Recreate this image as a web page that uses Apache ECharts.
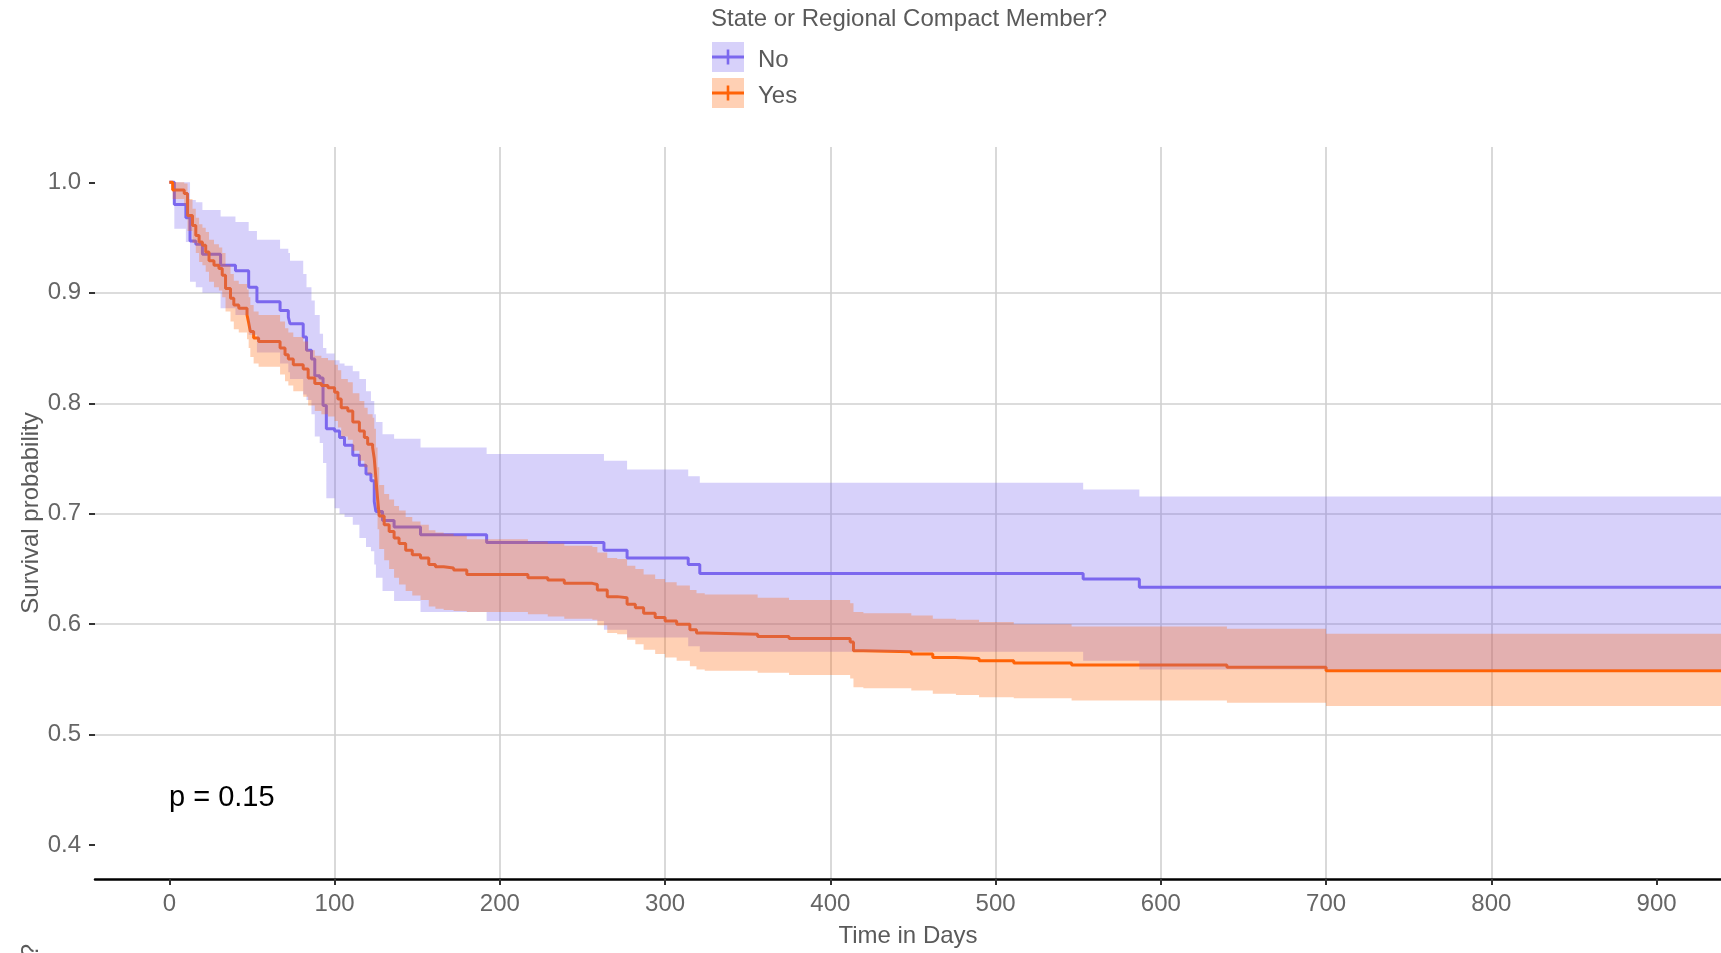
<!DOCTYPE html>
<html>
<head>
<meta charset="utf-8">
<title>Survival by compact membership</title>
<script src="https://cdn.jsdelivr.net/npm/echarts@6.0.0/dist/echarts.min.js"></script>
<style>
  html, body { margin: 0; padding: 0; background: #fff; overflow: hidden; }
  #myChart { width: 1721px; height: 953px; }
</style>
</head>
<body>
<div id="myChart"></div>
<script>
  // 刻度
  const xTicks = [0, 100, 200, 300, 400, 500, 600, 700, 800, 900];
  const yTicks = [0.4, 0.5, 0.6, 0.7, 0.8, 0.9, 1.0];

  // 组 "No"
  const noTime = [0, 3, 10, 12.5, 16, 20, 31, 40, 48, 53, 67, 72, 73, 81, 83, 86, 88, 91, 93, 95, 100, 103, 106, 111, 115, 119, 122, 124, 125, 129, 136, 152, 192, 263, 277, 314, 321, 553, 587, 950];
  const noSurv = [1.0, 0.980, 0.968, 0.947, 0.944, 0.935, 0.925, 0.920, 0.905, 0.892, 0.884, 0.878, 0.872, 0.860, 0.848, 0.840, 0.825, 0.823, 0.798, 0.777, 0.775, 0.769, 0.762, 0.753, 0.744, 0.736, 0.730, 0.711, 0.702, 0.694, 0.688, 0.681, 0.674, 0.667, 0.660, 0.654, 0.646, 0.641, 0.6335, 0.6335];
  const noLower = [1.0, 0.958, 0.946, 0.910, 0.905, 0.900, 0.886, 0.880, 0.862, 0.846, 0.836, 0.828, 0.822, 0.808, 0.803, 0.790, 0.770, 0.764, 0.746, 0.714, 0.705, 0.700, 0.697, 0.690, 0.678, 0.670, 0.666, 0.654, 0.642, 0.630, 0.621, 0.611, 0.603, 0.595, 0.588, 0.580, 0.575, 0.567, 0.559, 0.559];
  const noUpper = [1.0, 1.0, 1.0, 0.984, 0.982, 0.975, 0.969, 0.964, 0.956, 0.948, 0.940, 0.936, 0.929, 0.917, 0.905, 0.893, 0.880, 0.863, 0.850, 0.845, 0.839, 0.836, 0.834, 0.829, 0.822, 0.811, 0.802, 0.790, 0.783, 0.772, 0.768, 0.760, 0.754, 0.748, 0.740, 0.734, 0.728, 0.722, 0.7156, 0.7156];

  // 组 "Yes"
  const yesTime = [0, 2, 9, 11, 14, 16, 18, 20, 22, 24, 27, 30, 32, 34, 37, 39, 42, 47, 48, 49, 51, 54, 67, 70, 72, 75, 81, 84, 88, 92, 96, 100, 102, 104, 108, 111, 115, 118, 120, 123, 124, 125, 126, 127, 130, 133, 136, 139, 143, 147, 152, 157, 161, 166, 172, 180, 217, 229, 239, 256, 259, 265, 271, 277, 282, 287, 294, 300, 307, 315, 319, 324, 356, 375, 412, 414, 420, 449, 462, 476, 490, 511, 546, 640, 700, 950];
  const yesSurv = [1.0, 0.993, 0.990, 0.970, 0.961, 0.952, 0.946, 0.943, 0.937, 0.929, 0.925, 0.922, 0.916, 0.904, 0.895, 0.889, 0.886, 0.880, 0.873, 0.865, 0.859, 0.856, 0.850, 0.844, 0.840, 0.835, 0.831, 0.823, 0.818, 0.816, 0.814, 0.810, 0.804, 0.796, 0.793, 0.783, 0.775, 0.769, 0.763, 0.760, 0.750, 0.732, 0.714, 0.698, 0.690, 0.684, 0.678, 0.673, 0.667, 0.663, 0.660, 0.654, 0.652, 0.651, 0.649, 0.645, 0.642, 0.640, 0.637, 0.636, 0.631, 0.625, 0.624, 0.618, 0.615, 0.610, 0.606, 0.603, 0.600, 0.595, 0.592, 0.591, 0.589, 0.587, 0.584, 0.576, 0.575, 0.573, 0.570, 0.569, 0.567, 0.565, 0.563, 0.561, 0.558, 0.558];
  const yesLower = [1.0, 0.985, 0.980, 0.956, 0.945, 0.936, 0.928, 0.925, 0.919, 0.910, 0.905, 0.902, 0.896, 0.883, 0.874, 0.867, 0.864, 0.858, 0.850, 0.842, 0.836, 0.833, 0.826, 0.820, 0.816, 0.811, 0.806, 0.798, 0.793, 0.790, 0.788, 0.784, 0.778, 0.770, 0.767, 0.757, 0.748, 0.742, 0.736, 0.733, 0.722, 0.704, 0.686, 0.668, 0.658, 0.650, 0.642, 0.636, 0.630, 0.626, 0.622, 0.616, 0.614, 0.613, 0.612, 0.611, 0.609, 0.607, 0.605, 0.604, 0.599, 0.592, 0.591, 0.586, 0.582, 0.577, 0.573, 0.570, 0.567, 0.562, 0.559, 0.558, 0.556, 0.554, 0.551, 0.543, 0.542, 0.540, 0.537, 0.536, 0.534, 0.533, 0.531, 0.529, 0.526, 0.526];
  const yesUpper = [1.0, 1.0, 0.999, 0.985, 0.976, 0.968, 0.962, 0.959, 0.955, 0.948, 0.944, 0.941, 0.936, 0.925, 0.917, 0.911, 0.908, 0.903, 0.896, 0.889, 0.883, 0.880, 0.874, 0.868, 0.864, 0.860, 0.856, 0.848, 0.843, 0.841, 0.839, 0.835, 0.830, 0.822, 0.819, 0.809, 0.802, 0.796, 0.790, 0.787, 0.777, 0.760, 0.742, 0.726, 0.718, 0.713, 0.707, 0.703, 0.697, 0.693, 0.690, 0.685, 0.683, 0.682, 0.680, 0.677, 0.675, 0.673, 0.671, 0.670, 0.665, 0.660, 0.659, 0.653, 0.650, 0.645, 0.641, 0.638, 0.635, 0.631, 0.628, 0.627, 0.624, 0.622, 0.619, 0.611, 0.610, 0.608, 0.605, 0.604, 0.602, 0.600, 0.598, 0.596, 0.5915, 0.5915];

  const noColor = '#7B68EE';
  const yesColor = '#FF6308';
  const textGrey = '#5a5a5a';
  const tickGrey = '#666666';
  const fontFamily = '"Liberation Sans", Arial, sans-serif';

  function pairs (t, v) {
    return t.map((x, i) => [x, v[i]]);
  }

  function survLine (name, t, v, color) {
    return {
      name: name, type: 'line', step: 'end', data: pairs(t, v),
      symbol: 'none', silent: true, z: 2,
      lineStyle: { color: color, width: 3 }
    };
  }

  // 置信带：一个阶梯多边形，坐标全部走 api.coord
  function band (name, t, lo, up, color, z) {
    return {
      name: name, type: 'custom', silent: true, z: z, clip: true,
      data: t.map((x, i) => [x, lo[i], up[i]]),
      encode: { x: 0, y: [1, 2] },
      renderItem: function (params, api) {
        if (params.dataIndex !== 0) return;
        const n = params.dataInsideLength;
        let top = [];
        let bottom = [];
        for (let i = 0; i < n; i++) {
          const x0 = api.value(0, i);
          const x1 = i < n - 1 ? api.value(0, i + 1) : x0;
          top.push(api.coord([x0, api.value(2, i)]), api.coord([x1, api.value(2, i)]));
          bottom.push(api.coord([x0, api.value(1, i)]), api.coord([x1, api.value(1, i)]));
        }
        return {
          type: 'polygon',
          shape: { points: top.concat(bottom.reverse()) },
          style: { fill: color, opacity: 0.3 }
        };
      }
    };
  }

  function legendKey (y, color, label) {
    return [
      { type: 'rect', shape: { x: 712, y: y, width: 32, height: 30 }, style: { fill: color, opacity: 0.3 } },
      { type: 'line', shape: { x1: 712, y1: y + 15, x2: 744, y2: y + 15 }, style: { stroke: color, lineWidth: 3 } },
      { type: 'line', shape: { x1: 728, y1: y + 7.5, x2: 728, y2: y + 22.5 }, style: { stroke: color, lineWidth: 2.6 } },
      { type: 'text', x: 758, y: y + 18, style: { text: label, fontSize: 24, fontFamily: fontFamily, fill: textGrey, verticalAlign: 'middle' } }
    ];
  }

  let myChart = echarts.init(document.getElementById('myChart'));

  let option = {
    animation: false,
    backgroundColor: '#fff',
    grid: { left: 95, right: 0, top: 147, bottom: 66, containLabel: false },
    xAxis: {
      type: 'value',
      min: -45,
      max: 939,
      minInterval: 100,
      maxInterval: 100,
      name: 'Time in Days',
      nameLocation: 'middle',
      nameGap: 45,
      nameMoveOverlap: false,
      nameTextStyle: { fontSize: 24, color: textGrey, fontFamily: fontFamily },
      axisLine: { show: true, onZero: false, lineStyle: { color: '#000', width: 2.5 } },
      axisTick: { show: true, length: 6, customValues: xTicks, lineStyle: { color: '#333', width: 2 } },
      axisLabel: { customValues: xTicks, fontSize: 24, color: tickGrey, fontFamily: fontFamily, margin: 13 },
      splitLine: { show: true, showMinLine: false, showMaxLine: false, lineStyle: { color: '#d0d0d0', width: 1.6 } }
    },
    yAxis: {
      type: 'value',
      min: 0.3694,
      max: 1.032,
      minInterval: 0.1,
      maxInterval: 0.1,
      name: 'Survival probability',
      nameLocation: 'middle',
      nameGap: 52,
      nameMoveOverlap: false,
      nameTextStyle: { fontSize: 24, color: textGrey, fontFamily: fontFamily },
      axisLine: { show: false, onZero: false },
      axisTick: { show: true, length: 6, customValues: yTicks, lineStyle: { color: '#333', width: 2 } },
      axisLabel: {
        customValues: yTicks, fontSize: 24, color: tickGrey, fontFamily: fontFamily, margin: 14,
        formatter: function (v) { return v.toFixed(1); }
      },
      splitLine: { show: true, showMinLine: false, showMaxLine: false, lineStyle: { color: '#d0d0d0', width: 1.6 } }
    },
    series: [
      survLine('No', noTime, noSurv, noColor),
      survLine('Yes', yesTime, yesSurv, yesColor),
      band('No CI', noTime, noLower, noUpper, noColor, 3),
      band('Yes CI', yesTime, yesLower, yesUpper, yesColor, 4)
    ],
    graphic: [
      { type: 'text', x: 711, y: 19, style: { text: 'State or Regional Compact Member?', fontSize: 24, fontFamily: fontFamily, fill: textGrey, verticalAlign: 'middle' } },
      { type: 'text', x: 169, y: 798, style: { text: 'p = 0.15', fontSize: 29, fontFamily: fontFamily, fill: '#000', verticalAlign: 'middle' } },
      // 被裁掉的风险表标题
      { type: 'text', x: 31, y: 944, rotation: Math.PI / 2, style: { text: 'State or Regional Compact Member?', fontSize: 24, fontFamily: fontFamily, fill: textGrey, align: 'right', verticalAlign: 'middle' } }
    ]
      .concat(legendKey(42, noColor, 'No'))
      .concat(legendKey(78, yesColor, 'Yes'))
  };
  myChart.setOption(option);
</script>
</body>
</html>
